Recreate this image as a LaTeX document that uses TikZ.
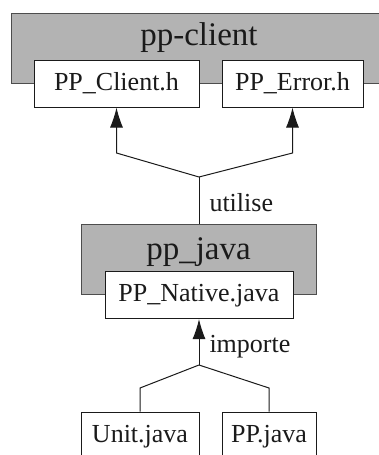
\documentclass[tikz,border=0pt]{standalone}
\usepackage{fontspec}
\setmainfont{Liberation Serif}
\usepackage{tikz}
\usetikzlibrary{positioning,arrows.meta,calc}
\definecolor{pkgfill}{HTML}{B3B3B3}
\definecolor{pkgline}{HTML}{4D4D4D}
\definecolor{ink}{HTML}{1A1A1A}
\newcommand{\titlefont}{\fontsize{33}{38}\selectfont}
\newcommand{\filefont}{\fontsize{26}{30}\selectfont}
\tikzset{
  pkgbox/.style={draw=pkgline, fill=pkgfill, line width=1pt, minimum height=70pt, inner sep=0pt},
  filebox/.style={draw=ink, fill=white, line width=1pt, font=\filefont, text=ink,
    text height=18pt, text depth=5pt, inner sep=0pt, minimum height=47pt},
  pkgtitle/.style={font=\titlefont, text=ink, anchor=base, inner sep=0pt},
  link/.style={draw=ink, line width=1pt},
  uses/.style={link, -{Latex[length=20pt, width=13pt]}},
  tag/.style={font=\filefont, text=ink, right, text height=18pt, text depth=5pt, inner xsep=10pt}
}
\begin{document}
\begin{tikzpicture}[x=1pt, y=-1pt, >=Latex]
  \useasboundingbox (0,0) rectangle (379,455);
  % packages
  \node[pkgbox, minimum width=376pt] (client) at (199,48) {};
  \node[pkgtitle] (clienttitle) at (199,45) {pp-client};
  \node[filebox, minimum width=165pt] (clienth) at (116.5,83.5) {PP\_Client.h};
  \node[filebox, minimum width=141pt] (errorh) at (292.5,83.5) {PP\_Error.h};

  \node[pkgbox, minimum width=235pt] (java) at (198.5,259) {};
  \node[pkgtitle] (javatitle) at (198.5,259) {pp\_java};
  \node[filebox, minimum width=188pt] (native) at (199,295) {PP\_Native.java};

  \node[filebox, minimum width=118pt] (unit) at (140,435.5) {Unit.java};
  \node[filebox, minimum width=94pt] (ppjava) at (269,435.5) {PP.java};

  % connectors
  \coordinate (uj) at (199,177);
  \coordinate (ul) at (116.5,153);
  \coordinate (ur) at (292.5,153);
  \draw[link] (java.north -| uj) -- node[tag, pos=0.4] {utilise} (uj);
  \draw[uses] (uj) -- (ul) -- (clienth);
  \draw[uses] (uj) -- (ur) -- (errorh);

  \coordinate (ij) at (199,365);
  \coordinate (il) at (140,388);
  \coordinate (ir) at (269,388);
  \draw[uses] (ij) -- node[tag, pos=0.415] {importe} (native);
  \draw[link] (unit) -- (il) -- (ij);
  \draw[link] (ppjava) -- (ir) -- (ij);
\end{tikzpicture}
\end{document}
